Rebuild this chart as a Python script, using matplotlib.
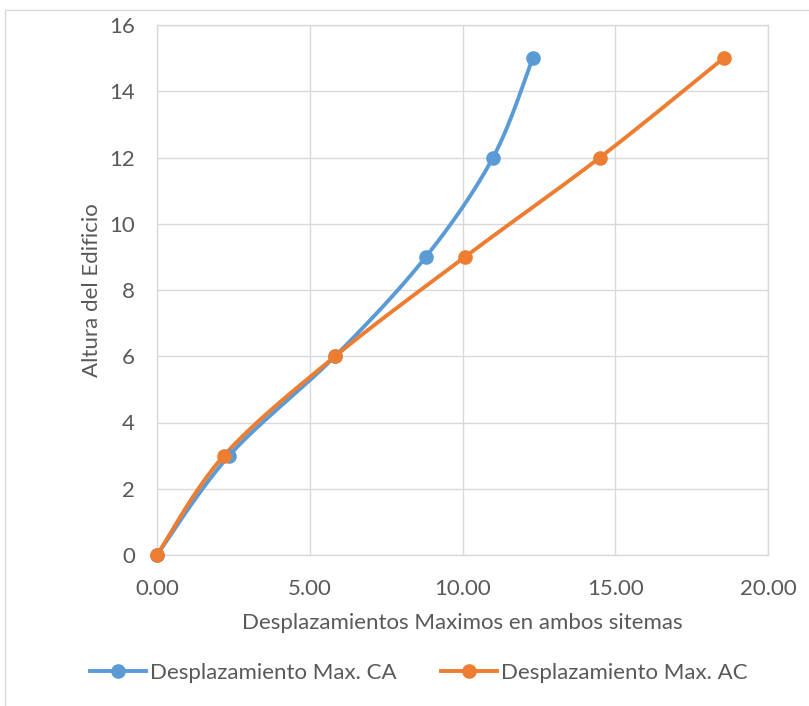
import numpy as np
import matplotlib
matplotlib.use("Agg")
import matplotlib.pyplot as plt
from matplotlib.lines import Line2D
from matplotlib.patches import Rectangle

plt.rcParams['font.family'] = ['Lato', 'DejaVu Sans']

# Heights (storeys) and maximum displacements for both systems
altura = [0, 3, 6, 9, 12, 15]
desp_ca = [0.0, 2.36, 5.83, 8.80, 11.00, 12.30]
desp_ac = [0.0, 2.19, 5.83, 10.08, 14.50, 18.55]

series_names = ["Desplazamiento Max. CA", "Desplazamiento Max. AC"]
colors = ["#5B9BD5", "#ED7D31"]

x_ticks = [0, 5, 10, 15, 20]
y_ticks = [0, 2, 4, 6, 8, 10, 12, 14, 16]


def smooth(xs, ys, n=40, tension=0.5):
    """Cardinal spline through the given points (smoothed line style)."""
    pts = np.column_stack([xs, ys]).astype(float)
    p = np.vstack([pts[0], pts, pts[-1]])
    out = []
    for i in range(1, len(p) - 2):
        p0, p1, p2, p3 = p[i - 1], p[i], p[i + 1], p[i + 2]
        m1 = tension * (p2 - p0)
        m2 = tension * (p3 - p1)
        t = np.linspace(0, 1, n)[:, None]
        h00 = 2 * t**3 - 3 * t**2 + 1
        h10 = t**3 - 2 * t**2 + t
        h01 = -2 * t**3 + 3 * t**2
        h11 = t**3 - t**2
        out.append(h00 * p1 + h10 * m1 + h01 * p2 + h11 * m2)
    c = np.vstack(out)
    return c[:, 0], c[:, 1]


fig = plt.figure(figsize=(8.09, 7.06), dpi=100)
ax = fig.add_axes([157 / 809, 1 - 555 / 706, (768 - 157) / 809, (555 - 25) / 706])

# Outer chart border
fig.patches.append(Rectangle((5 / 809, -0.1), 1.0, 1 - 10 / 706 + 0.1,
                             transform=fig.transFigure, fill=False,
                             edgecolor="#D9D9D9", linewidth=1.0))

for xs, name, col in zip([desp_ca, desp_ac], series_names, colors):
    sx, sy = smooth(xs, altura)
    ax.plot(sx, sy, color=col, linewidth=2.8, solid_capstyle="round",
            zorder=3, clip_on=False)
    ax.plot(xs, altura, linestyle="none", marker="o", markersize=9.5,
            color=col, zorder=4, clip_on=False)

ax.set_xlim(0, 20)
ax.set_ylim(0, 16)
ax.set_xticks(x_ticks)
ax.set_xticklabels([f"{v:.2f}" for v in x_ticks])
ax.set_yticks(y_ticks)
ax.grid(True, color="#D9D9D9", linewidth=1.0)
ax.set_axisbelow(True)
for s in ax.spines.values():
    s.set_color("#D9D9D9")
    s.set_linewidth(1.0)
ax.tick_params(axis="y", length=0, labelsize=16, labelcolor="#595959", pad=16)
ax.tick_params(axis="x", length=0, labelsize=16, labelcolor="#595959", pad=17.5)

ax.set_xlabel("Desplazamientos Maximos en ambos sitemas", fontsize=16,
              color="#595959", labelpad=10)
ax.set_ylabel("Altura del Edificio", fontsize=16, color="#595959", labelpad=5)

handles = [Line2D([0], [0], color=c, linewidth=2.8, marker="o", markersize=9.5)
           for c in colors]
fig.legend(handles, series_names, loc="center", bbox_to_anchor=(0.518, 1 - 673 / 706),
           ncol=2, frameon=False, fontsize=16, labelcolor="#595959",
           handlelength=2.5, handletextpad=0.2, columnspacing=2.0)

fig.savefig("out.png", dpi=100, facecolor="white")
